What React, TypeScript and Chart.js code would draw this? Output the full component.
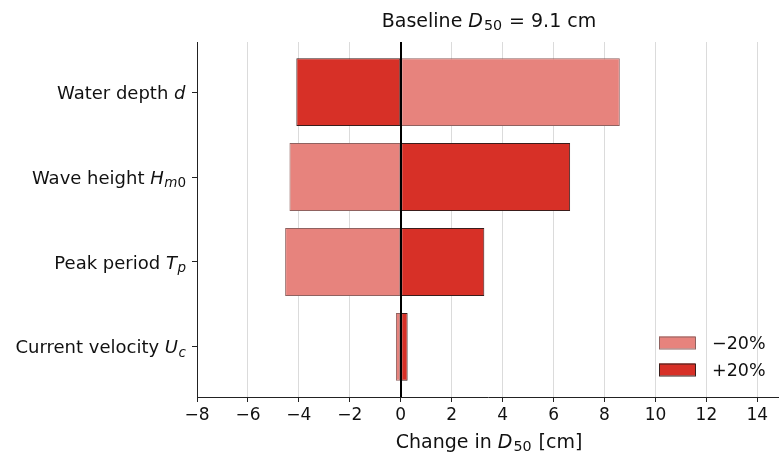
import React, { useEffect, useRef } from "react";
import { Chart, registerables } from "chart.js";

Chart.register(...registerables);

// ---- data ----
const categories = ["Water depth", "Wave height", "Peak period", "Current velocity"];
const symbols = ["d", "H", "T", "U"];
const subscripts = ["", "m0", "p", "c"];
const minus20 = [8.6, -4.37, -4.54, -0.19];
const plus20 = [-4.1, 6.65, 3.28, 0.27];
const xTicks = [-8, -6, -4, -2, 0, 2, 4, 6, 8, 10, 12, 14];
const seriesLabels = ["\u221220%", "+20%"];
const baselineD50 = 9.1;

const FONT = "'DejaVu Sans'";
const TEXT = "#111";
const LIGHT = "#e7837d";
const DARK = "#d73027";
const LIGHT_EDGE = "#8f6260";
const DARK_EDGE = "#3a1d1b";

type Seg = { t: string; it?: boolean; sub?: boolean; gap?: number };

const SUB_SCALE = 0.75;

function segFont(s: Seg, size: number) {
  return `${s.it ? "italic " : ""}${s.sub ? size * SUB_SCALE : size}px ${FONT}`;
}
function richWidth(ctx: CanvasRenderingContext2D, segs: Seg[], size: number) {
  let w = 0;
  for (const s of segs) {
    ctx.font = segFont(s, size);
    w += ctx.measureText(s.t).width + (s.gap || 0) * size;
  }
  return w;
}
function drawRich(
  ctx: CanvasRenderingContext2D,
  segs: Seg[],
  x: number,
  y: number,
  size: number,
  align: "left" | "center" | "right"
) {
  const w = richWidth(ctx, segs, size);
  let cx = align === "left" ? x : align === "center" ? x - w / 2 : x - w;
  ctx.save();
  ctx.textAlign = "left";
  ctx.textBaseline = "alphabetic";
  ctx.fillStyle = TEXT;
  for (const s of segs) {
    ctx.font = segFont(s, size);
    ctx.fillText(s.t, cx, s.sub ? y + size * 0.17 : y);
    cx += ctx.measureText(s.t).width + (s.gap || 0) * size;
  }
  ctx.restore();
}
function subSegs(sub: string): Seg[] {
  return sub.split("").map((c) => ({ t: c, it: /[a-z]/i.test(c), sub: true }));
}

const richPlugin = {
  id: "richText",
  afterDraw(chart: any) {
    const ctx: CanvasRenderingContext2D = chart.ctx;
    const area = chart.chartArea;
    const xs = chart.scales.x;
    const ys = chart.scales.y;

    // zero line
    ctx.save();
    ctx.strokeStyle = "#000";
    ctx.lineWidth = 2;
    const x0 = Math.round(xs.getPixelForValue(0));
    ctx.beginPath();
    ctx.moveTo(x0, area.top);
    ctx.lineTo(x0, area.bottom);
    ctx.stroke();
    ctx.restore();

    // y labels
    categories.forEach((c, i) => {
      const y = ys.getPixelForValue(i);
      const segs: Seg[] = [{ t: c + " " }, { t: symbols[i], it: true, gap: 0.03 }, ...subSegs(subscripts[i])];
      drawRich(ctx, segs, area.left - 11, y + 0.365 * 18, 18, "right");
    });

    // title
    const cxm = (area.left + area.right) / 2;
    drawRich(
      ctx,
      [
        { t: "Baseline " },
        { t: "D", it: true, gap: 0.05 },
        { t: "50", sub: true, gap: 0.05 },
        { t: ` = ${baselineD50} cm` },
      ],
      cxm + 1,
      27,
      19,
      "center"
    );
    // x label
    drawRich(
      ctx,
      [
        { t: "Change in " },
        { t: "D", it: true, gap: 0.05 },
        { t: "50", sub: true, gap: 0.05 },
        { t: " [cm]" },
      ],
      cxm + 1,
      448,
      19,
      "center"
    );

    // legend
    const items = [
      { label: seriesLabels[0], fill: LIGHT, edge: LIGHT_EDGE },
      { label: seriesLabels[1], fill: DARK, edge: DARK_EDGE },
    ];
    items.forEach((it, i) => {
      const top = 336.5 + i * 27;
      ctx.save();
      ctx.fillStyle = it.fill;
      ctx.fillRect(659, top, 36, 12);
      ctx.strokeStyle = it.edge;
      ctx.lineWidth = 1;
      ctx.strokeRect(659.5, top + 0.5, 36, 12);
      ctx.restore();
      drawRich(ctx, [{ t: it.label }], 712, top + 6 + 0.365 * 17.5, 17.5, "left");
    });
  },
};

export default function App() {
  const ref = useRef<HTMLCanvasElement>(null);
  useEffect(() => {
    document.body.style.margin = "0";
    const chart = new Chart(ref.current!, {
      type: "bar",
      data: {
        datasets: [
          {
            label: seriesLabels[0],
            data: minus20.map((v, i) => ({ x: v, y: i })),
            backgroundColor: LIGHT,
            borderColor: LIGHT_EDGE,
            borderWidth: 1,
            borderSkipped: false,
            barPercentage: 0.8,
            categoryPercentage: 1,
            grouped: false,
          },
          {
            label: seriesLabels[1],
            data: plus20.map((v, i) => ({ x: v, y: i })),
            backgroundColor: DARK,
            borderColor: DARK_EDGE,
            borderWidth: 1,
            borderSkipped: false,
            barPercentage: 0.8,
            categoryPercentage: 1,
            grouped: false,
          },
        ] as any,
      },
      options: {
        indexAxis: "y",
        animation: false,
        responsive: false,
        layout: { padding: { top: 42, right: 0, left: 0, bottom: 0 } },
        plugins: { legend: { display: false }, tooltip: { enabled: false } },
        scales: {
          x: {
            type: "linear",
            min: -8,
            max: 14.85,
            z: 1,
            afterBuildTicks: (s: any) => {
              s.ticks = xTicks.map((v) => ({ value: v }));
            },
            afterFit: (s: any) => {
              s.height = 58;
            },
            grid: {
              color: "rgba(200,200,200,0.65)",
              lineWidth: 1,
              tickColor: "#222",
              tickLength: 5,
              drawOnChartArea: true,
            },
            border: { color: "#222", width: 1 },
            ticks: {
              color: TEXT,
              font: { family: FONT, size: 17 },
              padding: 3,
              maxRotation: 0,
              callback: (v: any) => String(v).replace("-", "\u2212"),
            },
          },
          y: {
            type: "linear",
            min: -0.59,
            max: 3.59,
            reverse: true,
            offset: false,
            afterBuildTicks: (s: any) => {
              s.ticks = categories.map((_, i) => ({ value: i }));
            },
            afterFit: (s: any) => {
              s.width = 197;
            },
            grid: {
              offset: false,
              drawOnChartArea: false,
              tickColor: "#222",
              tickLength: 5,
            },
            border: { color: "#222", width: 1 },
            ticks: { callback: () => "", font: { family: FONT, size: 16 } },
          },
        },
      } as any,
      plugins: [richPlugin],
    });
    return () => chart.destroy();
  }, []);
  return <canvas ref={ref} width={779} height={455} style={{ display: "block" }} />;
}
